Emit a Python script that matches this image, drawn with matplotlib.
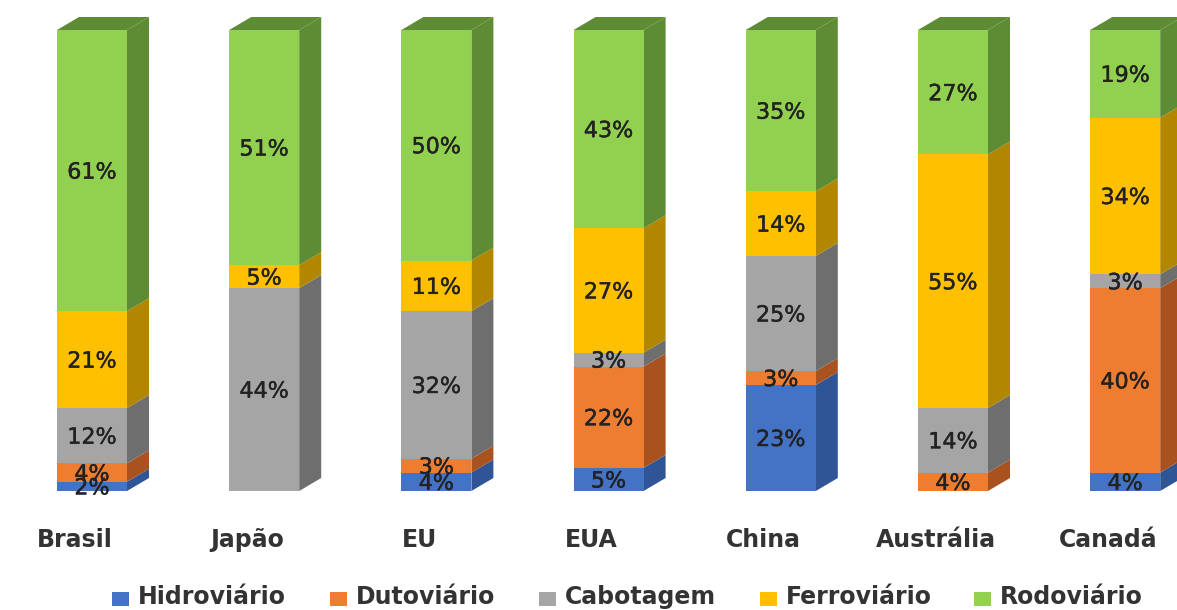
import matplotlib
matplotlib.use("Agg")
import matplotlib.pyplot as plt
import matplotlib.patheffects as pe
from matplotlib.patches import Polygon, Rectangle

countries = ["Brasil", "Japão", "EU", "EUA", "China", "Austrália", "Canadá"]
modes = ["Hidroviário", "Dutoviário", "Cabotagem", "Ferroviário", "Rodoviário"]
hidro = [2, 0, 4, 5, 23, 0, 4]
duto = [4, 0, 3, 22, 3, 4, 40]
cabo = [12, 44, 32, 3, 25, 14, 3]
ferro = [21, 5, 11, 27, 14, 55, 34]
rodo = [61, 51, 50, 43, 35, 27, 19]
series = [hidro, duto, cabo, ferro, rodo]
colors = ["#4472C4", "#ED7D31", "#A5A5A5", "#FFC000", "#92D050"]
side_colors = ["#2F5597", "#A9521F", "#6E6E6E", "#B38600", "#5E8C34"]
top_color = "#5E8C34"

W, H = 1177, 610
fig = plt.figure(figsize=(W / 100, H / 100), dpi=100)
ax = fig.add_axes([0, 0, 1, 1])
px_x = 172.2
px_y = 4.61
x0 = 92
y0 = 491
ax.set_xlim(-x0 / px_x, (W - x0) / px_x)
ax.set_ylim((y0 - H) / px_y, y0 / px_y)
ax.axis("off")

bw = 70 / px_x
dx = 22 / px_x
dy = 13 / px_y
thick = [pe.withStroke(linewidth=0.3, foreground="#222222")]
totals = [sum(s[i] for s in series) for i in range(len(countries))]
for i in range(len(countries)):
    scale = 100 / totals[i]
    bottom = 0.0
    left = i - bw / 2
    right = i + bw / 2
    for k, s in enumerate(series):
        v = s[i] * scale
        if v == 0:
            continue
        top = bottom + v
        ax.add_patch(Polygon([(right, bottom), (right + dx, bottom + dy), (right + dx, top + dy), (right, top)],
                             closed=True, fc=side_colors[k], ec="none", zorder=2 + k * 0.01))
        ax.add_patch(Rectangle((left, bottom), bw, v, fc=colors[k], ec="none", zorder=3))
        ax.text(i, bottom + v / 2, f"{s[i]}%", ha="center", va="center_baseline", fontsize=16,
                color="#222222", zorder=5, path_effects=thick)
        bottom = top
    ax.add_patch(Polygon([(left, bottom), (right, bottom), (right + dx, bottom + dy), (left + dx, bottom + dy)],
                         closed=True, fc=top_color, ec="none", zorder=3))
    ax.text(i - 0.1, -(547 - y0) / px_y, countries[i], ha="center", va="baseline",
            fontsize=17, fontweight="bold", color="#333333")

legend_x = [138, 356, 565, 786, 1000]
for name, c, lx in zip(modes, colors, legend_x):
    xd = (lx - x0) / px_x
    ax.add_patch(Rectangle((xd - 26 / px_x, -(606 - y0) / px_y), 17 / px_x, 14 / px_y, fc=c, ec="none"))
    ax.text(xd, -(604 - y0) / px_y, name, ha="left", va="baseline", fontsize=17, fontweight="bold", color="#333333")

fig.savefig("out.png", dpi=100)
